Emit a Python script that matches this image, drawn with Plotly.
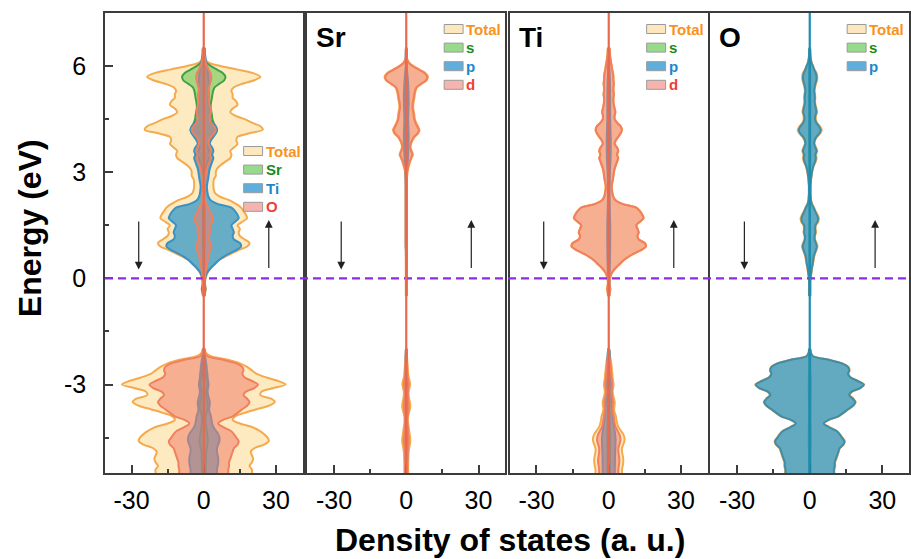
import plotly.graph_objects as go

# ---------------- energy grids (eV) ----------------
E_CB = [round(-0.5 + 0.1 * i, 1) for i in range(71)]      # -0.5 ... 6.5
E_VB = [round(-5.5 + 0.1 * i, 1) for i in range(36)]      # -5.5 ... -2.0
E_CB_C = [-0.5, 0.0, 0.5, 1.0, 1.5, 2.0, 2.5, 3.0, 3.5, 4.0, 4.5, 5.0, 5.5, 6.0, 6.5]
E_VB_C = [-5.5, -5.0, -4.5, -4.0, -3.5, -3.0, -2.5, -2.0]

# ---------------- panel 1 : total + atoms ----------------
TOTAL_CB = [0.3, 0.6, 0.9, 0.6, 0.5, 0.8, 1.2, 2.0, 3.0, 4.5,
            6.0, 8.5, 11.5, 14.5, 18.0, 19.0, 17.0, 15.0, 14.5, 15.0,
            14.0, 16.0, 18.0, 17.5, 16.5, 15.5, 13.5, 11.0, 7.0, 4.8,
            4.2, 4.0, 4.0, 4.2, 5.0, 5.0, 5.5, 7.0, 9.0, 11.0,
            11.5, 11.0, 12.5, 14.0, 13.5, 14.0, 19.0, 24.5, 23.5, 20.0,
            17.0, 13.0, 11.0, 12.0, 14.0, 13.5, 12.0, 12.0, 11.5, 12.5,
            16.0, 21.0, 23.5, 20.5, 14.0, 7.0, 2.0, 0.6, 0.4, 0.3, 0.3]
TOTAL_VB = [20.0, 20.0, 19.0, 20.0, 20.5, 20.0, 19.5, 21.0, 25.0, 27.0,
            26.5, 25.0, 23.0, 20.0, 15.0, 12.0, 13.0, 17.0, 22.0, 27.0,
            29.5, 28.0, 23.5, 24.0, 29.0, 34.0, 31.0, 26.0, 22.0, 20.0,
            18.0, 15.0, 10.0, 3.0, 0.8, 0.4]

SR_CB = [0.2, 0.2, 0.2, 0.2, 0.2, 0.2, 0.2, 0.2, 0.2, 0.2,
         0.2, 0.2, 0.2, 0.2, 0.3, 0.3, 0.3, 0.3, 0.3, 0.3,
         0.3, 0.3, 0.3, 0.3, 0.3, 0.3, 0.3, 0.3, 0.3, 0.3,
         0.3, 0.3, 0.3, 0.3, 0.4, 0.5, 0.8, 1.2, 1.6, 2.2,
         2.8, 2.3, 1.8, 2.0, 2.6, 3.5, 5.0, 5.5, 4.8, 4.1,
         3.6, 3.4, 3.2, 2.9, 2.9, 3.1, 3.4, 3.6, 3.9, 4.5,
         6.5, 8.5, 9.0, 8.0, 5.5, 3.0, 1.2, 0.4, 0.2, 0.2, 0.2]
SR_VB = [0.8, 0.8, 0.8, 0.8, 0.9, 0.9, 1.0, 1.2, 1.5, 1.7,
         1.6, 1.4, 1.2, 1.0, 0.8, 0.7, 0.8, 1.1, 1.5, 1.7,
         1.5, 1.2, 1.0, 1.0, 1.3, 1.6, 1.4, 1.0, 0.8, 0.7,
         0.6, 0.5, 0.4, 0.3, 0.2, 0.2]

TI_CB = [0.3, 0.5, 0.7, 0.5, 0.4, 0.6, 1.0, 1.8, 3.0, 4.5,
         6.0, 8.0, 10.5, 13.5, 15.5, 15.0, 12.5, 12.0, 12.5, 12.0,
         11.5, 13.0, 14.5, 14.0, 13.0, 11.5, 6.0, 3.0, 2.0, 1.6,
         1.4, 1.3, 1.5, 1.8, 2.0, 2.2, 2.5, 3.0, 3.5, 4.0,
         3.5, 4.0, 3.5, 2.5, 3.0, 4.0, 5.0, 5.5, 5.0, 3.5,
         2.5, 2.5, 2.8, 2.5, 2.2, 2.0, 2.0, 2.2, 2.0, 2.0,
         2.2, 2.0, 2.0, 1.8, 1.5, 1.3, 1.0, 0.8, 0.6, 0.5, 0.4]
TI_VB = [5.5, 5.5, 5.8, 6.0, 6.0, 5.8, 5.5, 5.5, 6.0, 6.5,
         6.5, 6.0, 5.0, 4.0, 3.5, 3.2, 3.0, 2.5, 2.2, 2.4,
         2.5, 2.2, 1.8, 1.6, 1.8, 2.0, 1.8, 1.6, 1.5, 1.3,
         1.2, 1.0, 0.8, 0.5, 0.3, 0.2]

O_CB = [0.2, 0.3, 0.3, 0.3, 0.3, 0.4, 0.6, 0.8, 1.0, 1.3,
        1.6, 1.8, 2.2, 2.8, 3.2, 2.8, 2.2, 2.2, 2.6, 2.4,
        2.6, 3.5, 3.8, 3.2, 2.4, 1.8, 1.0, 0.6, 0.5, 0.4,
        0.4, 0.4, 0.5, 0.6, 0.8, 1.0, 1.3, 1.8, 2.5, 2.8,
        2.6, 3.1, 2.6, 2.0, 2.2, 3.0, 4.4, 5.0, 4.2, 3.0,
        2.5, 2.6, 3.0, 2.8, 2.4, 2.2, 2.3, 2.2, 2.0, 2.2,
        2.6, 3.0, 3.1, 2.8, 2.0, 1.4, 0.8, 0.5, 0.3, 0.3, 0.2]
O_VB = [10.2, 10.2, 10.5, 10.5, 11.0, 11.5, 12.0, 12.5, 14.0, 14.5,
        13.5, 12.5, 11.0, 8.0, 6.0, 8.0, 12.0, 14.0, 16.0, 18.0,
        19.0, 18.0, 16.5, 17.5, 21.0, 22.5, 20.0, 17.0, 16.0, 16.5,
        16.0, 13.5, 8.0, 1.5, 0.5, 0.3]

# ---------------- panel 2 : Sr orbitals ----------------
SR_S_CB = [0.05, 0.05, 0.1, 0.1, 0.1, 0.1, 0.1, 0.2, 0.4, 0.4, 0.3, 0.4, 0.3, 0.1, 0.05]
SR_P_CB = [0.1, 0.1, 0.1, 0.2, 0.2, 0.2, 0.2, 0.3, 0.8, 1.0, 0.8, 1.0, 0.8, 0.2, 0.1]
SR_D_CB = [0.1, 0.1, 0.1, 0.1, 0.1, 0.1, 0.1, 0.1, 0.1, 0.1,
           0.1, 0.1, 0.1, 0.1, 0.2, 0.2, 0.2, 0.2, 0.2, 0.2,
           0.2, 0.2, 0.2, 0.2, 0.2, 0.2, 0.2, 0.2, 0.2, 0.2,
           0.2, 0.2, 0.2, 0.2, 0.3, 0.4, 0.6, 1.0, 1.4, 2.0,
           2.5, 2.0, 1.6, 1.8, 2.4, 3.2, 4.7, 5.2, 4.5, 3.8,
           3.3, 3.1, 2.9, 2.6, 2.6, 2.8, 3.1, 3.3, 3.6, 4.2,
           6.2, 8.2, 8.7, 7.7, 5.2, 2.7, 1.0, 0.3, 0.1, 0.1, 0.1]
SR_S_VB = [0.1, 0.1, 0.2, 0.1, 0.1, 0.1, 0.1, 0.05]
SR_P_VB = [0.3, 0.4, 0.5, 0.3, 0.4, 0.4, 0.2, 0.1]
SR_D_VB = [0.5, 0.5, 0.5, 0.5, 0.5, 0.5, 0.6, 0.7, 0.9, 1.0,
           1.0, 0.8, 0.7, 0.6, 0.5, 0.4, 0.5, 0.7, 0.9, 1.0,
           0.9, 0.7, 0.6, 0.6, 0.8, 1.0, 0.8, 0.6, 0.5, 0.4,
           0.4, 0.3, 0.2, 0.2, 0.1, 0.1]

# ---------------- panel 3 : Ti orbitals ----------------
TI_S_CB = [0.1, 0.1, 0.2, 0.3, 0.3, 0.2, 0.2, 0.2, 0.3, 0.3, 0.3, 0.3, 0.3, 0.1, 0.1]
TI_P_CB = [0.2, 0.3, 0.5, 0.6, 0.6, 0.4, 0.3, 0.5, 0.8, 0.8, 0.6, 0.6, 0.5, 0.2, 0.1]
TI_D_CB = [0.2, 0.4, 0.6, 0.4, 0.3, 0.5, 0.9, 1.7, 2.9, 4.4,
           5.9, 7.9, 10.4, 13.4, 15.4, 14.9, 12.4, 11.9, 12.4, 11.9,
           11.4, 12.9, 14.4, 13.9, 12.9, 11.4, 5.9, 2.9, 1.9, 1.5,
           1.3, 1.2, 1.4, 1.7, 1.9, 2.1, 2.4, 2.9, 3.4, 3.9,
           3.4, 3.9, 3.4, 2.4, 2.9, 3.9, 4.9, 5.4, 4.9, 3.4,
           2.4, 2.4, 2.7, 2.4, 2.1, 1.9, 1.9, 2.1, 1.9, 1.9,
           2.1, 1.9, 1.9, 1.7, 1.4, 1.2, 0.9, 0.7, 0.5, 0.4, 0.3]
TI_S_VB = [0.5, 0.5, 0.6, 0.4, 0.3, 0.3, 0.2, 0.1]
TI_P_VB = [2.5, 2.6, 2.8, 1.8, 1.2, 1.0, 0.6, 0.2]
TI_D_VB = [4.0, 4.0, 4.2, 4.4, 4.4, 4.2, 4.0, 4.0, 4.4, 4.8,
           4.8, 4.4, 3.6, 2.9, 2.5, 2.3, 2.1, 1.8, 1.6, 1.7,
           1.8, 1.6, 1.3, 1.1, 1.3, 1.4, 1.3, 1.1, 1.0, 0.9,
           0.8, 0.7, 0.5, 0.3, 0.2, 0.1]

# ---------------- panel 4 : O orbitals ----------------
O_S_CB = [0.05, 0.05, 0.1, 0.1, 0.1, 0.1, 0.1, 0.1, 0.2, 0.2, 0.2, 0.2, 0.2, 0.1, 0.05]
O_P_CB = [0.2, 0.2, 0.2, 0.2, 0.2, 0.3, 0.5, 0.7, 0.9, 1.2,
          1.4, 1.6, 2.0, 2.5, 2.9, 2.5, 2.0, 2.0, 2.3, 2.2,
          2.3, 3.2, 3.4, 2.9, 2.2, 1.6, 0.9, 0.5, 0.4, 0.3,
          0.3, 0.3, 0.4, 0.5, 0.7, 0.9, 1.2, 1.6, 2.2, 2.5,
          2.3, 2.8, 2.3, 1.8, 2.0, 2.7, 4.0, 4.5, 3.8, 2.7,
          2.2, 2.3, 2.7, 2.5, 2.2, 2.0, 2.1, 2.0, 1.8, 2.0,
          2.3, 2.7, 2.8, 2.5, 1.8, 1.3, 0.7, 0.4, 0.3, 0.2, 0.1]
O_S_VB = [0.3, 0.3, 0.4, 0.3, 0.3, 0.4, 0.2, 0.1]
O_P_VB = [10.0, 10.0, 10.3, 10.3, 10.8, 11.3, 11.8, 12.3, 13.8, 14.3,
          13.3, 12.3, 10.8, 7.8, 5.8, 7.8, 11.8, 13.8, 15.8, 17.8,
          18.8, 17.8, 16.3, 17.3, 20.8, 22.3, 19.8, 16.8, 15.8, 16.3,
          15.8, 13.3, 7.8, 1.3, 0.4, 0.2]

PANEL_LABELS = ["", "Sr", "Ti", "O"]
LEGEND_ITEMS = [["Total", "Sr", "Ti", "O"], ["Total", "s", "p", "d"],
                ["Total", "s", "p", "d"], ["Total", "s", "p"]]
X_TICKS = [-30, 0, 30]
X_MINOR = [-15, 15]
Y_TICKS = [-3, 0, 3, 6]
Y_MINOR = [-4.5, -1.5, 1.5, 4.5]
X_RANGE = [-41, 41]
Y_RANGE = [-5.5, 7.5]
ARROW_X = 27
ARROW_E = [0.25, 1.65]

# ---------------- styles ----------------
FONT = "Liberation Sans, Arial, sans-serif"
KEYS = ["total", "s", "p", "d"]
STY = {
    "total": dict(fill="rgba(252,222,160,0.65)", line="#F5AA4E", txt="#F7931E", sw="#FCE7BF"),
    "s":     dict(fill="rgba(110,200,90,0.60)",  line="#44A044", txt="#1A8A1A", sw="#98DA8C"),
    "p":     dict(fill="rgba(45,150,200,0.72)",  line="#3A92C2", txt="#1C86CF", sw="#5EAFDD"),
    "d":     dict(fill="rgba(242,125,105,0.55)", line="#F0805E", txt="#EE4035", sw="#F7B4AE"),
}


def closed(e_cb, v_cb, e_vb, v_vb):
    xs, ys = [], []
    for e, v in ((e_vb, v_vb), (e_cb, v_cb)):
        xs += list(v) + [-a for a in reversed(v)] + [None]
        ys += list(e) + list(reversed(e)) + [None]
    return xs, ys


fig = go.Figure()

panels = [
    [("total", E_CB, TOTAL_CB, E_VB, TOTAL_VB),
     ("s", E_CB, SR_CB, E_VB, SR_VB),
     ("p", E_CB, TI_CB, E_VB, TI_VB),
     ("d", E_CB, O_CB, E_VB, O_VB)],
    [("total", E_CB, SR_CB, E_VB, SR_VB),
     ("s", E_CB_C, SR_S_CB, E_VB_C, SR_S_VB),
     ("p", E_CB_C, SR_P_CB, E_VB_C, SR_P_VB),
     ("d", E_CB, SR_D_CB, E_VB, SR_D_VB)],
    [("total", E_CB, TI_CB, E_VB, TI_VB),
     ("s", E_CB_C, TI_S_CB, E_VB_C, TI_S_VB),
     ("p", E_CB_C, TI_P_CB, E_VB_C, TI_P_VB),
     ("d", E_CB, TI_D_CB, E_VB, TI_D_VB)],
    [("total", E_CB, O_CB, E_VB, O_VB),
     ("s", E_CB_C, O_S_CB, E_VB_C, O_S_VB),
     ("p", E_CB, O_P_CB, E_VB, O_P_VB)],
]

for k, series in enumerate(panels):
    xa = "x" if k == 0 else f"x{k+1}"
    ya = "y" if k == 0 else f"y{k+1}"
    for j, (key, ecb, vcb, evb, vvb) in enumerate(series):
        st = STY[key]
        xs, ys = closed(ecb, vcb, evb, vvb)
        lc = st["line"]
        fc = st["fill"]
        if k == 3 and key == "p":
            lc = "#3F8EA8"
            fc = "rgba(50,148,190,0.76)"
        fig.add_trace(go.Scatter(
            x=xs, y=ys, mode="lines", fill="toself", fillcolor=fc,
            line=dict(color=lc, width=2, shape="spline", smoothing=0.8),
            name=LEGEND_ITEMS[k][j], showlegend=False,
            xaxis=xa, yaxis=ya, hoverinfo="skip"))

L, R, T, B = 105, 0, 13, 86
W, H = 911, 559
PW = W - L - R
PH = H - T - B
doms = [[0, 198 / PW], [203 / PW, 401 / PW], [406 / PW, 604 / PW], [607 / PW, 1.0]]
AX_LINE = "#3c3c3c"


def px(xp):
    return (xp - L) / PW


def py(yp):
    return (H - B - yp) / PH


layout = dict(
    width=W, height=H, margin=dict(l=L, r=R, t=T, b=B),
    paper_bgcolor="white", plot_bgcolor="white",
    font=dict(family=FONT, color="black"),
    showlegend=False,
)
for k in range(4):
    xn = "xaxis" if k == 0 else f"xaxis{k+1}"
    yn = "yaxis" if k == 0 else f"yaxis{k+1}"
    ya = "y" if k == 0 else f"y{k+1}"
    xa = "x" if k == 0 else f"x{k+1}"
    layout[xn] = dict(
        domain=doms[k], anchor=ya, range=X_RANGE, showgrid=False, zeroline=False,
        showline=True, mirror=True, linecolor=AX_LINE, linewidth=1.5,
        tickmode="array", tickvals=X_TICKS, ticktext=[str(v) for v in X_TICKS],
        ticks="inside", ticklen=8, tickwidth=1.5, tickcolor=AX_LINE,
        tickfont=dict(size=25, family=FONT, color="black"), ticklabelstandoff=4,
        minor=dict(tickvals=X_MINOR, ticks="inside", ticklen=4, tickwidth=1.5, tickcolor=AX_LINE),
    )
    ycfg = dict(
        domain=[0, 1], anchor=xa, range=Y_RANGE, showgrid=False, zeroline=False,
        showline=True, mirror=True, linecolor=AX_LINE, linewidth=1.5,
    )
    if k == 0:
        ycfg.update(tickmode="array", tickvals=Y_TICKS, ticktext=[str(v) for v in Y_TICKS],
                    ticks="inside", ticklen=8, tickwidth=1.5, tickcolor=AX_LINE,
                    tickfont=dict(size=25, family=FONT, color="black"), ticklabelstandoff=12,
                    minor=dict(tickvals=Y_MINOR, ticks="inside", ticklen=4, tickwidth=1.5,
                               tickcolor=AX_LINE))
    else:
        ycfg.update(matches="y", showticklabels=False, ticks="")
    layout[yn] = ycfg

fig.update_layout(**layout)

# zero-energy dashed line across all panels
fig.add_shape(type="line", xref="paper", x0=0, x1=1, yref="y", y0=0, y1=0,
              line=dict(color="#8E2BE6", width=2.2, dash="8px,5px"), layer="above")
# central zero-DOS lines
center_colors = ["#E8694E", "#E8694E", "#E8694E", "#1B8DB3"]
for k in range(4):
    xa = "x" if k == 0 else f"x{k+1}"
    ya = "y" if k == 0 else f"y{k+1}"
    fig.add_shape(type="line", xref=xa, x0=0, x1=0, yref=f"{ya} domain", y0=0, y1=1,
                  line=dict(color=center_colors[k], width=2.2), layer="above")
    # spin arrows
    fig.add_annotation(xref=xa, yref=ya, axref=xa, ayref=ya,
                       x=-ARROW_X, y=ARROW_E[0], ax=-ARROW_X, ay=ARROW_E[1],
                       text="", showarrow=True, arrowhead=2, arrowsize=1.3,
                       arrowwidth=1.2, arrowcolor="#222222")
    fig.add_annotation(xref=xa, yref=ya, axref=xa, ayref=ya,
                       x=ARROW_X, y=ARROW_E[1], ax=ARROW_X, ay=ARROW_E[0],
                       text="", showarrow=True, arrowhead=2, arrowsize=1.3,
                       arrowwidth=1.2, arrowcolor="#222222")
    if PANEL_LABELS[k]:
        fig.add_annotation(xref=f"{xa} domain", yref=f"{ya} domain", x=0.035, y=0.985,
                           xanchor="left", yanchor="top", text=f"<b>{PANEL_LABELS[k]}</b>",
                           showarrow=False, font=dict(size=28, family=FONT, color="black"))

# legends (swatch + coloured label), positioned in pixels
LEG_LEFT = [244, 445, 648, 849]
LEG_TOP = [151, 29, 29, 29]
LEG_STEP = 18.6
for k in range(4):
    for j, name in enumerate(LEGEND_ITEMS[k]):
        st = STY[KEYS[j]]
        cy = LEG_TOP[k] + j * LEG_STEP
        x0 = LEG_LEFT[k]
        fig.add_shape(type="rect", xref="paper", yref="paper",
                      x0=px(x0), x1=px(x0 + 19), y0=py(cy + 4.5), y1=py(cy - 4.5),
                      fillcolor=st["sw"], line=dict(color="#9a9a9a", width=1), layer="above")
        fig.add_annotation(xref="paper", yref="paper", x=px(x0 + 20), y=py(cy),
                           xanchor="left", yanchor="middle", text=f"<b>{name}</b>",
                           showarrow=False, font=dict(size=15, family=FONT, color=st["txt"]))

fig.add_annotation(xref="paper", yref="paper", x=px(30), y=py(228),
                   xanchor="center", yanchor="middle",
                   text="<b>Energy (eV)</b>", textangle=-90, showarrow=False,
                   font=dict(size=32, family=FONT, color="black"))
fig.add_annotation(xref="paper", yref="paper", x=px(511), y=py(540),
                   xanchor="center", yanchor="middle",
                   text="<b>Density of states (a. u.)</b>", showarrow=False,
                   font=dict(size=32, family=FONT, color="black"))

fig.write_html("out.html")
